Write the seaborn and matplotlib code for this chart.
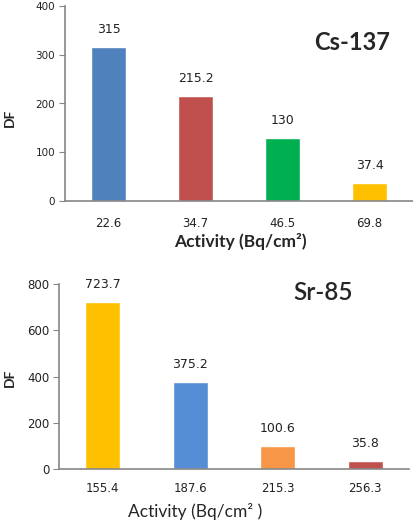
import matplotlib
matplotlib.use("Agg")
import matplotlib.pyplot as plt
import seaborn as sns
import pandas as pd

# Data
cs_activity = ["22.6", "34.7", "46.5", "69.8"]
cs_df = [315, 215.2, 130, 37.4]
cs_colors = ["#4F81BD", "#C0504D", "#00B050", "#FFC000"]

sr_activity = ["155.4", "187.6", "215.3", "256.3"]
sr_df = [723.7, 375.2, 100.6, 35.8]
sr_colors = ["#FFC000", "#558ED5", "#F79646", "#C0504D"]

sns.set_style("white")
plt.rcParams["font.family"] = ["DejaVu Sans"]

W, H = 413, 523
fig = plt.figure(figsize=(W / 100, H / 100), dpi=100)


def px_axes(left, right, top, bottom):
    return fig.add_axes([left / W, 1 - bottom / H, (right - left) / W, (bottom - top) / H])


def draw(ax, cats, vals, colors, ymax, ystep, ytick_size, xpad):
    data = pd.DataFrame({"Activity": cats, "DF": vals})
    sns.barplot(data=data, x="Activity", y="DF", hue="Activity", palette=colors,
                width=0.4, legend=False, ax=ax, saturation=1)
    ax.set_xlim(-0.5, 3.5)
    ax.set_ylim(0, ymax)
    ax.set_yticks(range(0, ymax + 1, ystep))
    for s in ["top", "right"]:
        ax.spines[s].set_visible(False)
    for s in ["left", "bottom"]:
        ax.spines[s].set_color("#868686")
        ax.spines[s].set_linewidth(1.2)
    ax.tick_params(axis="y", left=True, length=4, color="#868686", labelsize=ytick_size,
                   labelcolor="#222222", pad=3)
    ax.tick_params(axis="x", bottom=False, labelsize=8.5, labelcolor="#222222", pad=xpad)
    ax.set_xlabel("")
    ax.set_ylabel("")
    for c in ax.containers:
        ax.bar_label(c, labels=[f"{v:g}" for v in c.datavalues], padding=8,
                     fontsize=9, color="#222222")


ax1 = px_axes(65, 413, 6, 201)
draw(ax1, cs_activity, cs_df, cs_colors, 400, 100, 7.5, 8)

ax2 = px_axes(59, 409, 284, 469)
draw(ax2, sr_activity, sr_df, sr_colors, 800, 200, 8.5, 6)

# titles and axis labels
fig.text(352 / W, 1 - 43 / H, "Cs-137", family="Lato", weight="bold", fontsize=17,
         ha="center", va="center")
fig.text(323 / W, 1 - 293 / H, "Sr-85", family="Lato", weight="semibold", fontsize=17.5,
         ha="center", va="center")
fig.text(240 / W, 1 - 242 / H, "Activity (Bq/cm²)", family="Lato",
         weight="bold", fontsize=12.5, ha="center", va="center")
fig.text(195 / W, 1 - 511 / H, "Activity (Bq/cm² )", family="Lato",
         fontsize=12.5, ha="center", va="center")
fig.text(10 / W, 1 - 118 / H, "DF", family="Lato", weight="bold", fontsize=10,
         rotation=90, ha="center", va="center")
fig.text(10 / W, 1 - 378 / H, "DF", family="Lato", weight="bold", fontsize=10,
         rotation=90, ha="center", va="center")

fig.savefig("out.png", dpi=100)
